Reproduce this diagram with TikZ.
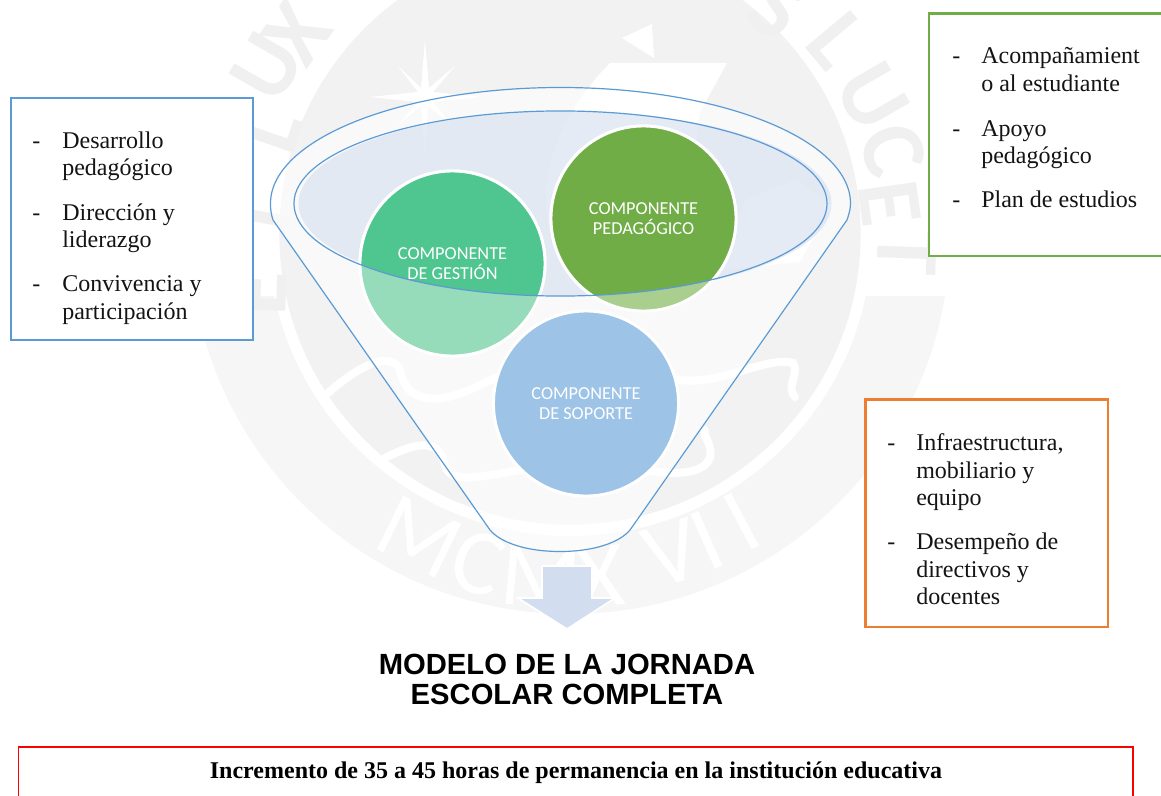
\documentclass[tikz,border=0pt]{standalone}
\usepackage{fontspec}
\setmainfont{Liberation Serif}
\newfontfamily\carlitofont{Carlito}
\newfontfamily\arialfont{Liberation Sans}
\definecolor{wmdisc}{HTML}{F2F2F2}
\definecolor{wmband}{HTML}{F6F6F6}
\definecolor{wmletter}{HTML}{F0F0F0}
\definecolor{linkblue}{HTML}{5B9BD5}
\definecolor{rimfill}{HTML}{D2DEEF}
\definecolor{gestionlight}{HTML}{96DCBA}
\definecolor{gestionfull}{HTML}{4FC58F}
\definecolor{pedalight}{HTML}{A9CE8E}
\definecolor{pedafull}{HTML}{70AD47}
\definecolor{soporte}{HTML}{9DC3E6}
\definecolor{boxorange}{HTML}{ED7D31}
\tikzset{
  wmtop/.style={text=wmletter,inner sep=0pt,font=\carlitofont\bfseries\fontsize{68}{68}\selectfont},
  wmbot/.style={text=white,inner sep=0pt,font=\carlitofont\fontsize{70}{70}\selectfont},
  wave/.style={draw=white,line width=6pt,line cap=round},
  boxline/.style={draw=#1,line width=2.2pt,fill=white},
  ln/.style={anchor=base west,inner sep=0pt,font=\fontsize{18}{21}\selectfont,text=black!92},
  captxt/.style={text=white,align=center,inner sep=0pt,font=\carlitofont\fontsize{13.7}{15.5}\selectfont},
  ball/.style={draw=white,line width=2.2pt},
}
\begin{document}
\begin{tikzpicture}[x=0.75pt,y=-0.75pt]
\useasboundingbox (0,0) rectangle (1161,796);
\clip (0,0) rectangle (1161,796);
% watermark seal
\begin{scope}
\clip (0,296) rectangle (1161,796);
\fill[wmband] (570,234) circle[radius=285pt];
\end{scope}
\fill[white] (570,234) circle[radius=226.5pt];
\fill[wmdisc] (570,234) circle[radius=218pt];
\fill[white] (610,63) -- (727,63) -- (700,112) .. controls (690,170) and (695,225) .. (715,278) -- (580,285) .. controls (535,240) and (525,150) .. (610,63) -- cycle;
\fill[white] (720,270) -- (745,200) -- (795,180) -- (832,205) -- (800,262) -- cycle;
\fill[white] (622,38) -- (652,24) -- (654,58) -- cycle;
\fill[white] (425,40) -- (429,88) -- (455,66) -- (433,92) -- (482,97) -- (433,102) -- (452,125) -- (428,106) -- (425,160) -- (421,106) -- (398,125) -- (418,102) -- (370,97) -- (418,92) -- (398,66) -- (421,88) -- cycle;
\draw[wave] (328,393) .. controls (360,365) and (390,350) .. (400,370) .. controls (405,398) and (430,410) .. (480,385) .. controls (540,355) and (600,345) .. (660,375) .. controls (710,395) and (760,355) .. (793,363) .. controls (800,375) and (785,385) .. (795,397);
\draw[wave] (385,458) .. controls (420,440) and (440,440) .. (445,465) .. controls (450,490) and (500,470) .. (560,465) .. controls (620,460) and (680,485) .. (705,465) .. controls (720,450) and (700,435) .. (705,430);
\node[wmtop,rotate=88] (we) at (257,293) {E};
\node[wmtop,rotate=80] (wt) at (260,217) {T};
\node[wmtop,rotate=71] (wl) at (270,130) {L};
\node[wmtop,rotate=60] (wu) at (267,67) {U};
\node[wmtop,rotate=55] (wx) at (297,33) {X};
\node[wmtop,rotate=-35] (ws) at (777,8) {S};
\node[wmtop,rotate=-50] (wl2) at (837,40) {L};
\node[wmtop,rotate=-60] (wu2) at (872,97) {U};
\node[wmtop,rotate=-72] (wc) at (893,150) {C};
\node[wmtop,rotate=-82] (we2) at (890,203) {E};
\node[wmtop,rotate=-92] (wt2) at (907,253) {T};
\node[wmbot,rotate=-26] (bm) at (419,537) {M};
\node[wmbot,rotate=-17] (bc) at (478,563) {C};
\node[wmbot,rotate=-5] (bm2) at (541,577) {M};
\node[wmbot,rotate=5] (bx) at (600,577) {X};
\node[wmbot,rotate=17] (bv) at (672,553) {V};
\node[wmbot,rotate=24] (bi) at (707,540) {I};
\node[wmbot,rotate=28] (bi2) at (742,522) {I};
% funnel
\path[fill=white,fill opacity=.58] (273,220) .. controls (271,214) and (270.5,209) .. (270.5,203.5)
  .. controls (270.5,139.4) and (400.3,87.5) .. (560.5,87.5)
  .. controls (720.7,87.5) and (850.5,139.4) .. (850.5,203.5)
  .. controls (850.5,209) and (849,214) .. (847,220)
  -- (630,530) .. controls (620,542) and (595,551.5) .. (560,551.5)
  .. controls (525,551.5) and (500,542) .. (490,530) -- cycle;
\draw[linkblue,line width=.9pt] (273,220) .. controls (271,214) and (270.5,209) .. (270.5,203.5)
  .. controls (270.5,139.4) and (400.3,87.5) .. (560.5,87.5)
  .. controls (720.7,87.5) and (850.5,139.4) .. (850.5,203.5)
  .. controls (850.5,209) and (849,214) .. (847,220)
  -- (630,530) .. controls (620,542) and (595,551.5) .. (560,551.5)
  .. controls (525,551.5) and (500,542) .. (490,530) -- cycle;
\fill[rimfill,fill opacity=.58] (565,203.5) ellipse[x radius=199.9pt,y radius=69.4pt];
% circles
\filldraw[fill=gestionlight,ball] (452.5,263.5) circle[radius=69.4pt];
\filldraw[fill=pedalight,ball] (643.5,218.5) circle[radius=69.4pt];
\filldraw[fill=soporte,ball] (586,403.5) circle[radius=69.4pt];
\begin{scope}
\clip (560.5,203.5) ellipse[x radius=199.9pt,y radius=69.4pt];
\filldraw[fill=gestionfull,ball] (452.5,263.5) circle[radius=69.4pt];
\filldraw[fill=pedafull,ball] (643.5,218.5) circle[radius=69.4pt];
\end{scope}
\draw[linkblue,line width=.9pt] (560.5,203.5) ellipse[x radius=199.9pt,y radius=69.4pt];
\node[captxt] (gestion) at (452.5,263.5) {COMPONENTE\\DE GESTIÓN};
\node[captxt] (pedagogico) at (643.5,218.5) {COMPONENTE\\PEDAGÓGICO};
\node[captxt] (soportetxt) at (586,403.5) {COMPONENTE\\DE SOPORTE};
% down arrow
\filldraw[fill=rimfill,draw=white,line width=1.2pt] (542,566) -- (592,566) -- (592,598) -- (615,598) -- (567,629) -- (518,598) -- (542,598) -- cycle;
% boxes
\path[boxline=linkblue] (11,98) rectangle (253,340);
\path[boxline=pedafull] (929,13.5) rectangle (1175,256);
\path[boxline=boxorange] (865.5,399.5) rectangle (1108,627);
\draw[red,line width=.8pt] (18.5,747) rectangle (1133,810);
% blue box text
\node[ln] (a0) at (32,148) {-};
\node[ln] (a1) at (62,148) {Desarrollo};
\node[ln] (a2) at (62,175) {pedagógico};
\node[ln] (b0) at (32,220) {-};
\node[ln] (b1) at (62,220) {Dirección y};
\node[ln] (b2) at (62,247) {liderazgo};
\node[ln] (c0) at (32,291) {-};
\node[ln] (c1) at (62,291) {Convivencia y};
\node[ln] (c2) at (62,319) {participación};
% green box text
\node[ln] (d0) at (952,63) {-};
\node[ln] (d1) at (981,63) {Acompañamient};
\node[ln] (d2) at (981,91) {o al estudiante};
\node[ln] (e0) at (952,136) {-};
\node[ln] (e1) at (981,136) {Apoyo};
\node[ln] (e2) at (981,163) {pedagógico};
\node[ln] (f0) at (952,207) {-};
\node[ln] (f1) at (981,207) {Plan de estudios};
% orange box text
\node[ln] (g0) at (887,450) {-};
\node[ln] (g1) at (916,450) {Infraestructura,};
\node[ln] (g2) at (916,478) {mobiliario y};
\node[ln] (g3) at (916,505) {equipo};
\node[ln] (h0) at (887,549) {-};
\node[ln] (h1) at (916,549) {Desempeño de};
\node[ln] (h2) at (916,577) {directivos y};
\node[ln] (h3) at (916,604) {docentes};
% title and footer
\node[align=center,inner sep=0pt,font=\arialfont\bfseries\fontsize{21.9}{22.5}\selectfont] (title) at (567,679) {MODELO DE LA JORNADA\\ESCOLAR COMPLETA};
\node[anchor=base,inner sep=0pt,font=\bfseries\fontsize{18}{21}\selectfont] (foot) at (576,778) {Incremento de 35 a 45 horas de permanencia en la institución educativa};
\end{tikzpicture}
\end{document}
